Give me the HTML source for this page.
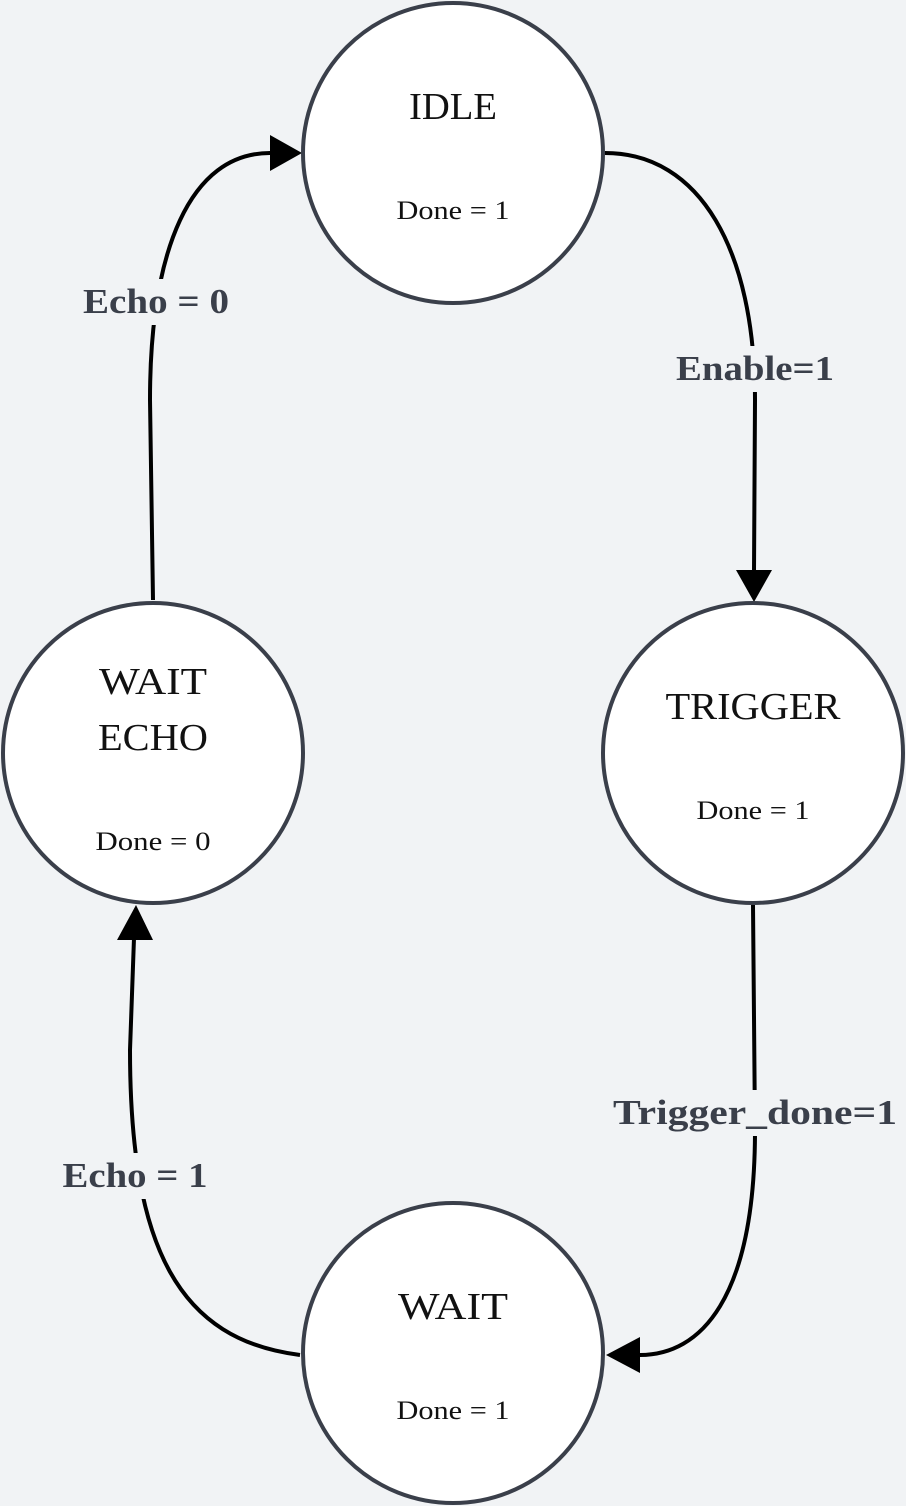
<!DOCTYPE html>
<html><head><meta charset="utf-8"><style>
html,body{margin:0;padding:0;background:#f1f3f5;}
svg{display:block}
text{font-family:"Liberation Serif",serif;fill:#111;}
.lbl{font-weight:bold;fill:#3a3f4a;font-size:35px;}
</style></head><body>
<svg width="906" height="1506" viewBox="0 0 906 1506" xmlns="http://www.w3.org/2000/svg">
<rect width="906" height="1506" fill="#f1f3f5"/>
<g fill="none" stroke="#000" stroke-width="4">
<path d="M605,153 C700,153 755,250 755,400 L754,572"/>
<path d="M753,905 L755,1130 C755,1300 700,1355 640,1355"/>
<path d="M300,1355 C180,1340 130,1250 130,1050 L134,938"/>
<path d="M153,600 L150,400 C150,250 190,153 270,153"/>
</g>
<g fill="#000">
<polygon points="736,570 772,570 754,602"/>
<polygon points="640,1337 640,1373 606,1355"/>
<polygon points="117,940 153,940 136,905"/>
<polygon points="270,135 270,171 302,153"/>
</g>
<g fill="#fff" stroke="#3a3f4a" stroke-width="4">
<circle cx="453" cy="153" r="150"/>
<circle cx="753" cy="753" r="150"/>
<circle cx="153" cy="753" r="150"/>
<circle cx="453" cy="1353" r="150"/>
</g>
<g text-anchor="middle">
<text x="453" y="119" font-size="38" textLength="88" lengthAdjust="spacingAndGlyphs">IDLE</text>
<text x="453" y="219" font-size="26" textLength="113" lengthAdjust="spacingAndGlyphs">Done = 1</text>
<text x="753" y="719" font-size="38" textLength="175" lengthAdjust="spacingAndGlyphs">TRIGGER</text>
<text x="753" y="819" font-size="26" textLength="113" lengthAdjust="spacingAndGlyphs">Done = 1</text>
<text x="153" y="694" font-size="38" textLength="108" lengthAdjust="spacingAndGlyphs">WAIT</text>
<text x="153" y="750" font-size="38" textLength="110" lengthAdjust="spacingAndGlyphs">ECHO</text>
<text x="153" y="850" font-size="26" textLength="115" lengthAdjust="spacingAndGlyphs">Done = 0</text>
<text x="453" y="1319" font-size="38" textLength="110" lengthAdjust="spacingAndGlyphs">WAIT</text>
<text x="453" y="1419" font-size="26" textLength="113" lengthAdjust="spacingAndGlyphs">Done = 1</text>
</g>
<g>
<rect x="672" y="346" width="166" height="46" fill="#f1f3f5"/>
<rect x="610" y="1090" width="292" height="46" fill="#f1f3f5"/>
<rect x="58" y="1153" width="154" height="46" fill="#f1f3f5"/>
<rect x="78" y="279" width="156" height="46" fill="#f1f3f5"/>
</g>
<g text-anchor="middle">
<text class="lbl" x="755" y="380" textLength="158" lengthAdjust="spacingAndGlyphs">Enable=1</text>
<text class="lbl" x="755" y="1124" textLength="284" lengthAdjust="spacingAndGlyphs">Trigger_done=1</text>
<text class="lbl" x="135" y="1187" textLength="145" lengthAdjust="spacingAndGlyphs">Echo = 1</text>
<text class="lbl" x="156" y="313" textLength="146" lengthAdjust="spacingAndGlyphs">Echo = 0</text>
</g>
</svg>
</body></html>
